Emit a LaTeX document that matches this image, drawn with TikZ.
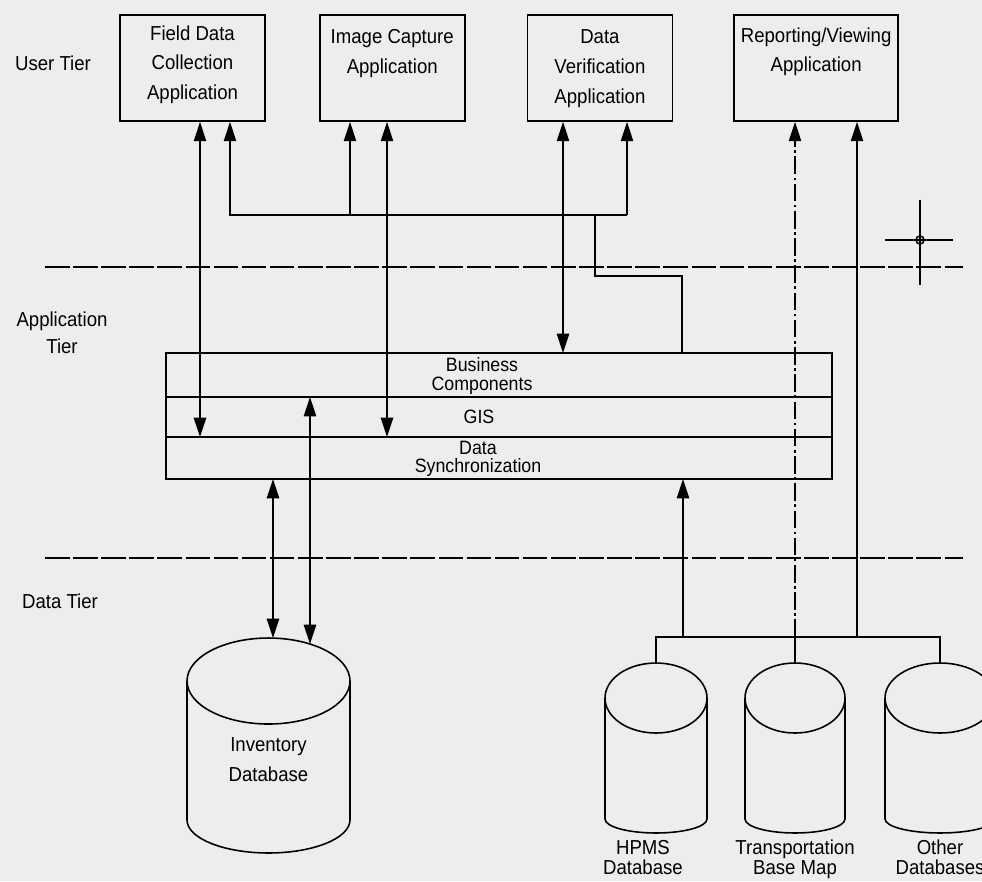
\documentclass[tikz,border=0pt]{standalone}
\usepackage{fontspec}
\setmainfont{Liberation Sans}[FakeStretch=0.92]
\usepackage{tikz}
\usetikzlibrary{arrows.meta,positioning,calc}
\definecolor{paper}{RGB}{237,237,237}
\tikzstyle{appbox} = [rectangle, draw=black, line width=1pt, minimum width=2.9cm, minimum height=2.12cm, inner sep=0pt]
\tikzstyle{boxtext} = [font=\fontsize{11.5}{17}\selectfont, align=center, inner sep=0pt, anchor=north]
\tikzstyle{layer} = [rectangle, draw=black, line width=1pt, minimum width=13.32cm, inner sep=0pt, outer sep=0pt]
\tikzstyle{layertext} = [font=\fontsize{11}{10.5}\selectfont, align=center, inner sep=0pt]
\tikzstyle{db} = [rectangle, inner sep=0pt, outer sep=0pt]
\tikzstyle{dblabel} = [font=\fontsize{11.5}{11.3}\selectfont, align=center, inner sep=0pt, anchor=north]
\tikzstyle{tierlabel} = [font=\fontsize{11.5}{15.3}\selectfont, align=center, inner sep=0pt]
\tikzstyle{wire} = [line width=0.9pt]
\tikzstyle{arrow} = [line width=0.9pt, -{Triangle[length=11pt,width=7pt]}]
\tikzstyle{dblarrow} = [line width=0.9pt, {Triangle[length=11pt,width=7pt]}-{Triangle[length=11pt,width=7pt]}]
\tikzstyle{tierline} = [line width=0.9pt, dash pattern=on 14pt off 2pt]
% cylinder outline round a db node: name, x radius, top y radius, bottom y radius
\newcommand{\dbdraw}[4]{%
	\draw [wire] ([yshift=-#3]#1.north) ellipse [x radius=#2, y radius=#3];
	\draw [wire] ([yshift=-#3]#1.north west) -- ([yshift=#4]#1.south west) arc [start angle=180, end angle=360, x radius=#2, y radius=#4] -- ([yshift=-#3]#1.north east);
}
\begin{document}
\begin{tikzpicture}[x=0.02cm, y=-0.02cm]
		\fill [paper] (0,0) rectangle (982,881);
		\useasboundingbox (0,0) rectangle (982,881);
		
		% user tier
		\node (fdc) [appbox] at (192.5,68) {};
		\node (icap) [appbox, right=1.06cm of fdc] {};
		\node (dver) [appbox, right=1.22cm of icap] {};
		\node (rview) [appbox, minimum width=3.28cm, right=1.2cm of dver] {};
		
		\node (fdc_t) [boxtext, below=0.22cm of fdc.north] {Field Data\\Collection\\Application};
		\node (icap_t) [boxtext, below=0.3cm of icap.north] {Image Capture\\Application};
		\node (dver_t) [boxtext, below=0.3cm of dver.north] {Data\\Verification\\Application};
		\node (rview_t) [boxtext, below=0.26cm of rview.north] {Reporting/Viewing\\Application};
		
		% application tier
		\node (biz) [layer, minimum height=0.88cm] at (499,375) {};
		\node (gis) [layer, minimum height=0.8cm, below=0pt of biz] {};
		\node (dsync) [layer, minimum height=0.84cm, below=0pt of gis] {};
		
		\node (biz_t) [layertext] at ([xshift=-0.34cm, yshift=-0.02cm]biz.center) {Business\\Components};
		\node (gis_t) [layertext] at ([xshift=-0.4cm]gis.center) {GIS};
		\node (dsync_t) [layertext] at ([xshift=-0.42cm, yshift=-0.02cm]dsync.center) {Data\\Synchronization};
		
		% data tier
		\node (inv) [db, minimum width=3.26cm, minimum height=4.3cm] at (268.5,745.5) {};
		\node (hpms) [db, minimum width=2.04cm, minimum height=3.4cm] at (656,748) {};
		\node (tbm) [db, minimum width=2.0cm, minimum height=3.4cm] at (795,748) {};
		\node (other) [db, minimum width=2.2cm, minimum height=3.4cm] at (940,748) {};
		\dbdraw{inv}{1.63cm}{0.86cm}{0.66cm}
		\dbdraw{hpms}{1.02cm}{0.7cm}{0.28cm}
		\dbdraw{tbm}{1.0cm}{0.7cm}{0.28cm}
		\dbdraw{other}{1.1cm}{0.7cm}{0.28cm}
		
		\node (inv_t) [tierlabel, font=\fontsize{11.5}{17}\selectfont] at ([yshift=-0.29cm]inv.center) {Inventory\\Database};
		\node (hpms_t) [dblabel, below=0.14cm of hpms, xshift=-0.26cm] {HPMS\\Database};
		\node (tbm_t) [dblabel, below=0.14cm of tbm] {Transportation\\Base Map};
		\node (other_t) [dblabel, below=0.14cm of other] {Other\\Databases};
		
		% tier labels and separators
		\node (user_l) [tierlabel] at (53,63) {User Tier};
		\node (app_l) [tierlabel] at (62,333) {Application\\Tier};
		\node (data_l) [tierlabel] at (60,601) {Data Tier};
		\draw [tierline] (45,267) -- (963,267);
		\draw [tierline] (45,558) -- (963,558);
		
		% mark
		\draw [wire] (885,240) -- (953,240);
		\draw [wire] (920,200) -- (920,285);
		\draw [wire] (920,240) circle (0.08cm);
		
		% tracks
		\coordinate (tA) at (200,0);
		\coordinate (tB) at (230,0);
		\coordinate (tC) at (350,0);
		\coordinate (tD) at (387,0);
		\coordinate (tE) at (563,0);
		\coordinate (tF) at (595,0);
		\coordinate (tG) at (627,0);
		\coordinate (tH) at (682,0);
		\coordinate (tI) at (273,0);
		\coordinate (tJ) at (310,0);
		\coordinate (tK) at (683,0);
		\coordinate (tM) at (857,0);
		\coordinate (busA) at (0,215);
		\coordinate (jog) at (0,276);
		\coordinate (busB) at (0,637);
		
		\draw [dblarrow] (fdc.south -| tA) -- (gis.south -| tA);
		\draw [arrow] (busA -| tG) -- (busA -| tB) -- (fdc.south -| tB);
		\draw [arrow] (busA -| tC) -- (icap.south -| tC);
		\draw [arrow] (busA -| tG) -- (dver.south -| tG);
		\draw [wire] (biz.north -| tH) -- (jog -| tH) -- (jog -| tF) -- (busA -| tF);
		\draw [dblarrow] (icap.south -| tD) -- (gis.south -| tD);
		\draw [dblarrow] (dver.south -| tE) -- (biz.north -| tE);
		
		\draw [dblarrow] (dsync.south -| tI) -- (inv.north -| tI);
		\draw [dblarrow] (gis.north -| tJ) -- ($(inv.north -| tJ)+(0,6)$);
		
		\draw [wire] (hpms.north) -- (hpms.north |- busB) -- (other.north |- busB) -- (other.north);
		\draw [wire] (tbm.north |- busB) -- (tbm.north);
		\draw [arrow] (busB -| tK) -- (dsync.south -| tK);
		\draw [arrow, dash pattern=on 10pt off 2pt on 1.5pt off 2pt] (busB -| tbm.north) -- (rview.south -| tbm.north);
		\draw [arrow] (busB -| tM) -- (rview.south -| tM);
		
\end{tikzpicture}
\end{document}
